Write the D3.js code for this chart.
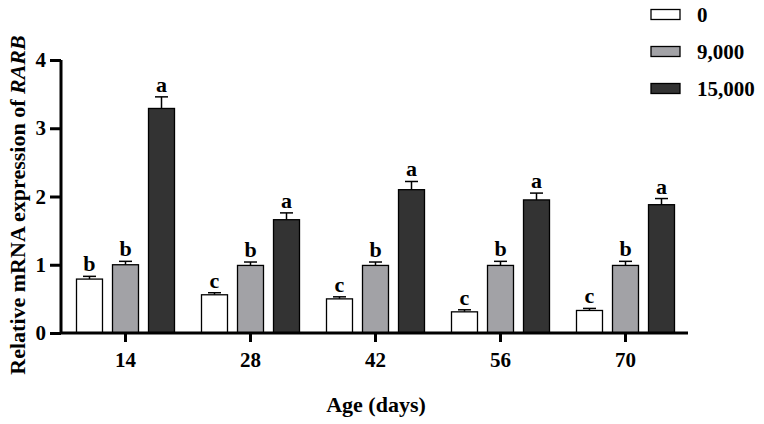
<!DOCTYPE html>
<html>
<head>
<meta charset="utf-8">
<script src="https://cdn.jsdelivr.net/npm/d3@7"></script>
<style>
  body { margin: 0; background: #fff; }
  text { font-family: "Liberation Serif", "Times New Roman", serif; font-weight: bold; }
</style>
</head>
<body>
<script>
const ages = ["14", "28", "42", "56", "70"];
const groups = ["0", "9,000", "15,000"];
const means = {
    "0":      [0.79, 0.56, 0.50, 0.31, 0.33],
    "9,000":  [1.00, 0.99, 0.99, 0.99, 0.99],
    "15,000": [3.29, 1.66, 2.10, 1.95, 1.88]
};
const errors = {
    "0":      [0.04, 0.03, 0.03, 0.03, 0.03],
    "9,000":  [0.05, 0.05, 0.05, 0.06, 0.06],
    "15,000": [0.17, 0.10, 0.12, 0.10, 0.09]
};
const letters = {
    "0":      ["b", "c", "c", "c", "c"],
    "9,000":  ["b", "b", "b", "b", "b"],
    "15,000": ["a", "a", "a", "a", "a"]
};
const yTicks = [0, 1, 2, 3, 4];
const colors = { "0": "#ffffff", "9,000": "#a2a2a6", "15,000": "#333333" };

const width = 764, height = 424;
const svg = d3.select("body").append("svg")
    .attr("width", width)
    .attr("height", height);

//scales
const x0 = d3.scaleBand().domain(ages).range([63, 688]);
const x1 = d3.scaleBand().domain(groups).range([-49, 49]).paddingInner(0.278).paddingOuter(0);
const y = d3.scaleLinear().domain([0, 4]).range([333, 60]);

//bars
const g = svg.append("g");
groups.forEach(grp => {
    const bw = x1.bandwidth();
    ages.forEach((age, i) => {
        const cx = x0(age) + x0.bandwidth() / 2 + x1(grp);
        const v = means[grp][i], e = errors[grp][i];
        //error bar (upper only)
        const xm = cx + bw / 2;
        g.append("line").attr("x1", xm).attr("x2", xm)
            .attr("y1", y(v)).attr("y2", y(v + e))
            .attr("stroke", "#000").attr("stroke-width", 1.5);
        g.append("line").attr("x1", xm - 6.5).attr("x2", xm + 6.5)
            .attr("y1", y(v + e)).attr("y2", y(v + e))
            .attr("stroke", "#000").attr("stroke-width", 1.5);
        g.append("rect")
            .attr("x", cx).attr("y", y(v))
            .attr("width", bw).attr("height", y(0) - y(v))
            .attr("fill", colors[grp])
            .attr("stroke", "#000").attr("stroke-width", 1.3);
        g.append("text")
            .attr("x", xm).attr("y", y(v + e) - 5)
            .attr("text-anchor", "middle")
            .style("font-size", "22px")
            .text(letters[grp][i]);
    });
});

//axes
const yAxis = svg.append("g")
    .attr("transform", "translate(61,0)")
    .call(d3.axisLeft(y).tickValues(yTicks).tickSize(11).tickPadding(4).tickFormat(d3.format("d")));
yAxis.select(".domain").attr("stroke-width", 3).attr("d", `M0,${y(4)}V${y(0)}`);
yAxis.selectAll(".tick line").attr("stroke-width", 3);
yAxis.selectAll("text").style("font-size", "21px").attr("fill", "#000");

const xAxis = svg.append("g")
    .attr("transform", `translate(0,${y(0)})`)
    .call(d3.axisBottom(x0).tickSize(9).tickPadding(10));
xAxis.select(".domain").attr("stroke-width", 3).attr("d", "M60,0H688");
xAxis.selectAll(".tick line").attr("stroke-width", 3);
xAxis.selectAll("text").style("font-size", "21px").attr("fill", "#000");

//axis titles
svg.append("text")
    .attr("x", 376).attr("y", 412)
    .attr("text-anchor", "middle")
    .style("font-size", "22px")
    .text("Age (days)");

const yt = svg.append("text")
    .attr("transform", "translate(25,205) rotate(-90)")
    .attr("text-anchor", "middle")
    .style("font-size", "22px");
yt.append("tspan").text("Relative mRNA expression of ");
yt.append("tspan").style("font-style", "italic").text("RARB");

//legend
const legend = svg.append("g");
groups.forEach((grp, i) => {
    const cy = 14.5 + i * 37;
    legend.append("rect")
        .attr("x", 651).attr("y", cy - 5)
        .attr("width", 29).attr("height", 10)
        .attr("fill", colors[grp])
        .attr("stroke", "#000").attr("stroke-width", 1.3);
    legend.append("text")
        .attr("x", 697).attr("y", cy + 7)
        .style("font-size", "21px")
        .text(grp);
});
</script>
</body>
</html>
